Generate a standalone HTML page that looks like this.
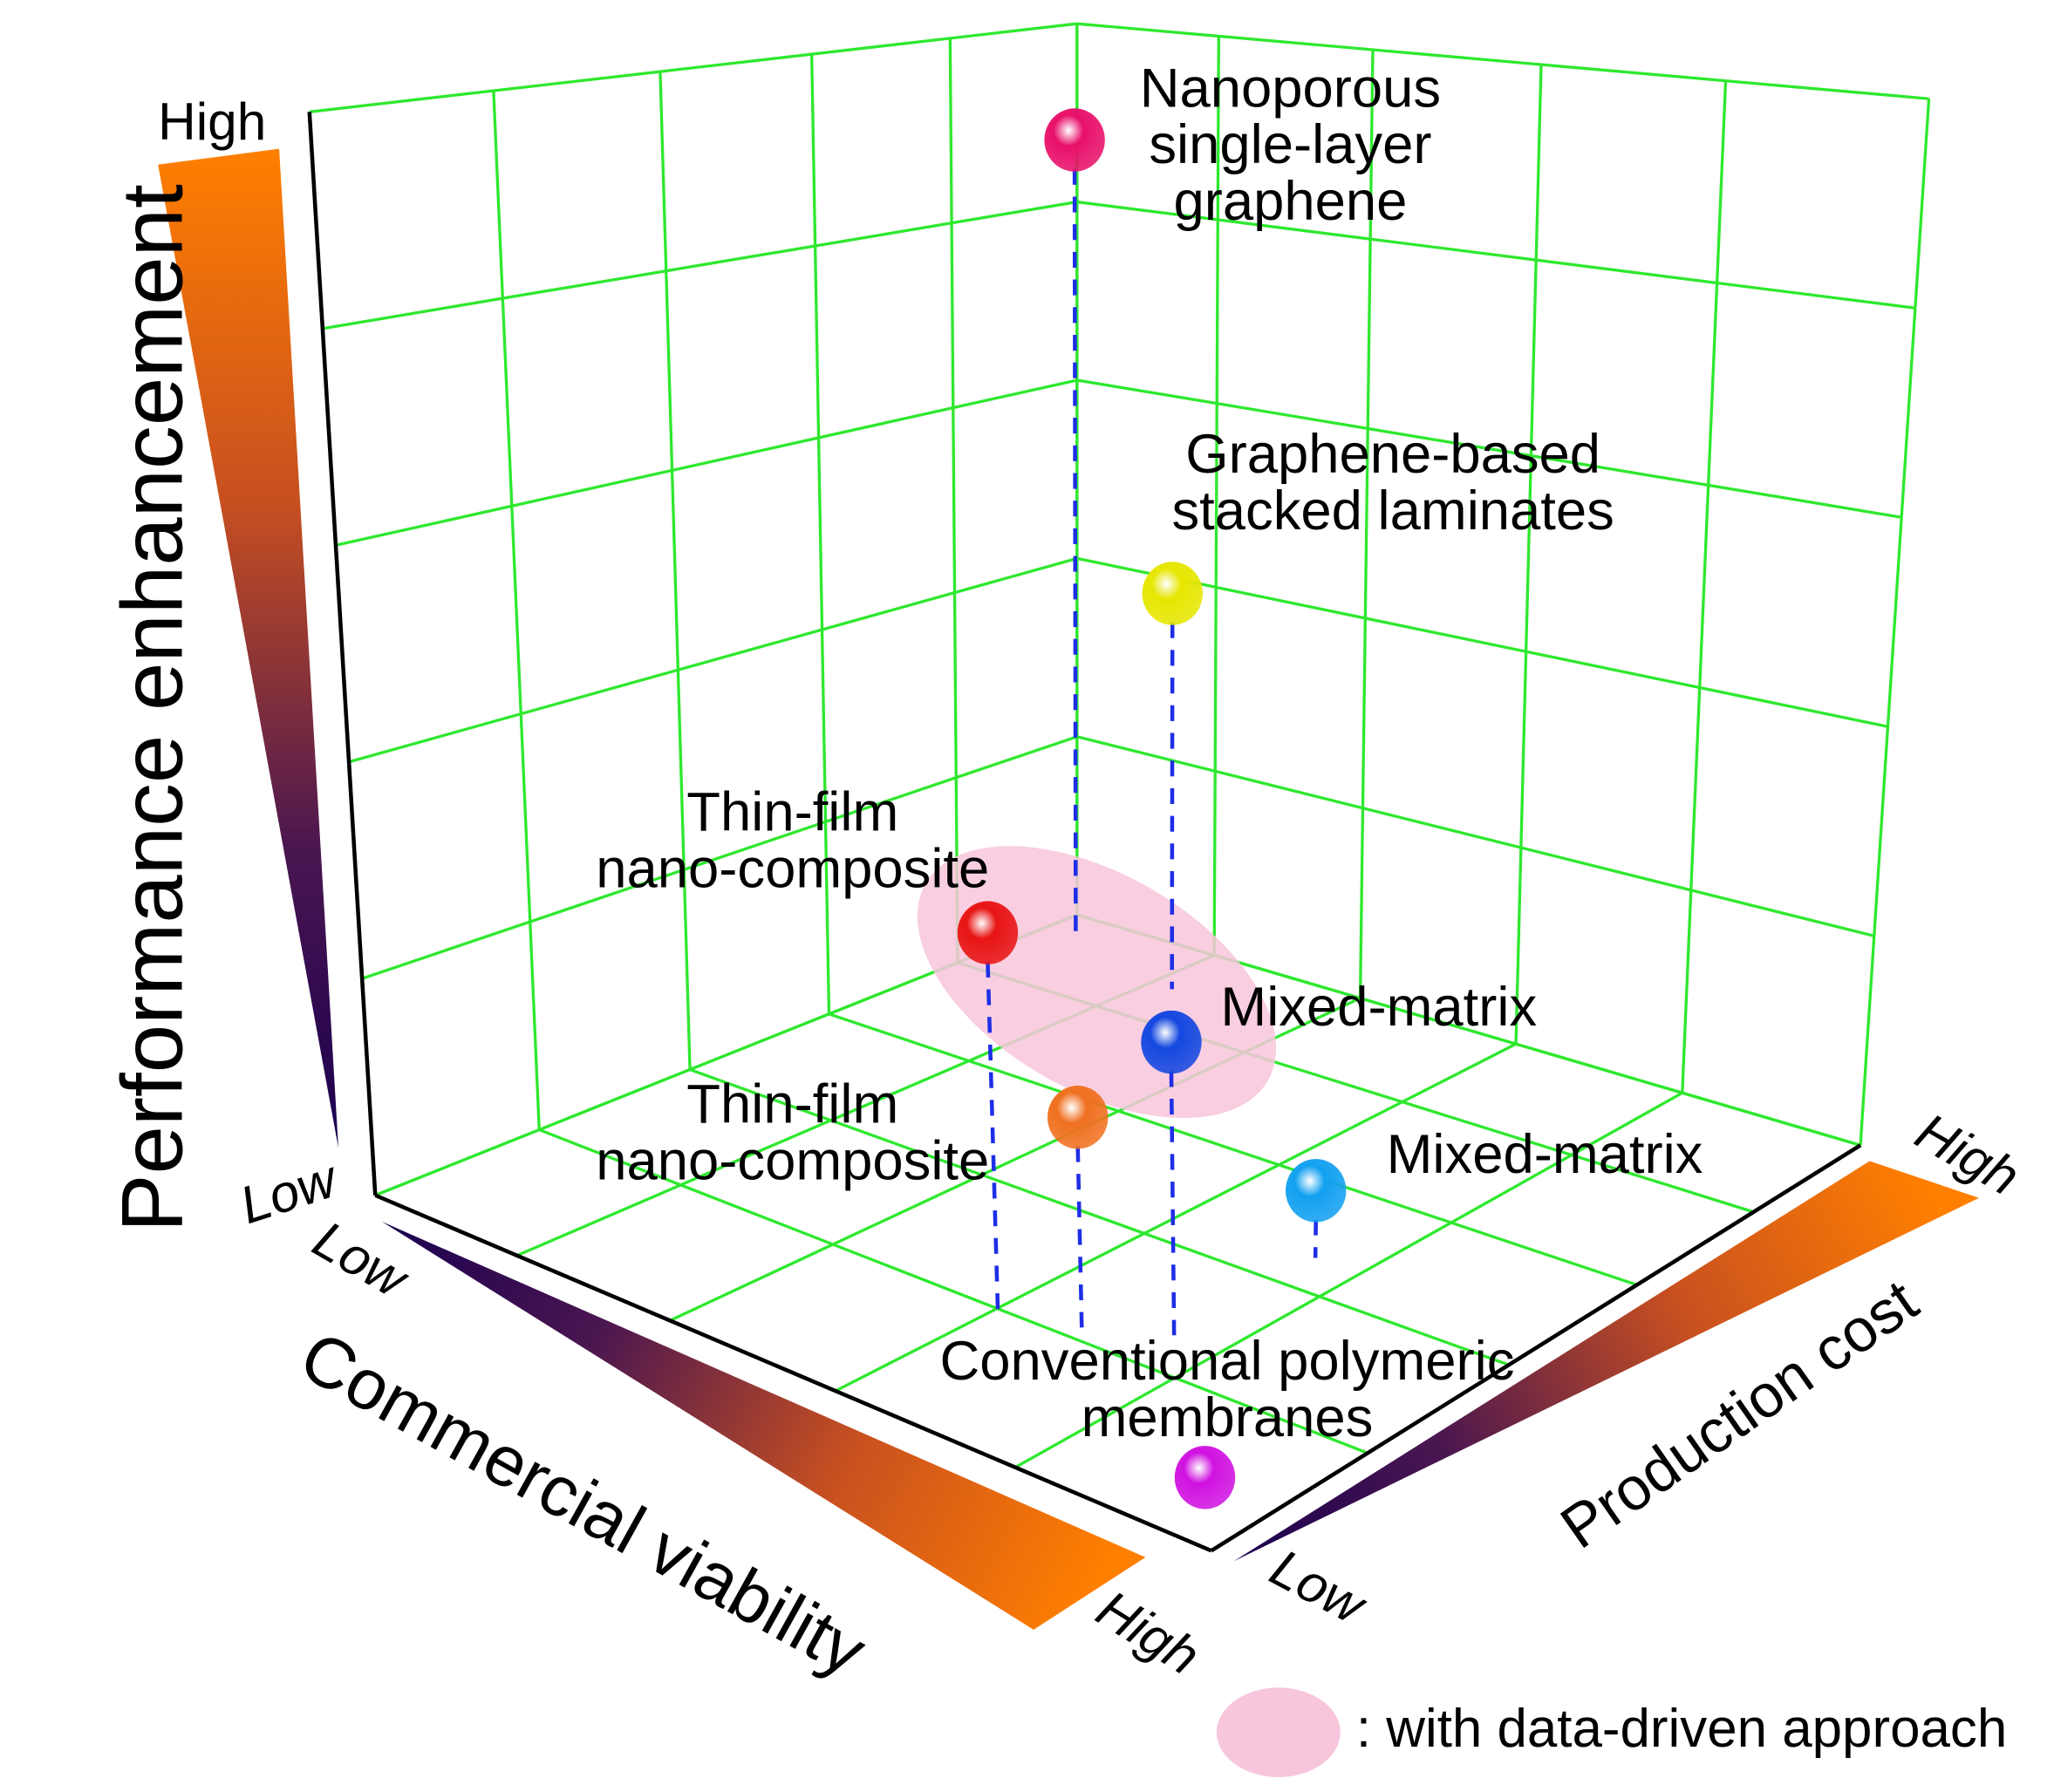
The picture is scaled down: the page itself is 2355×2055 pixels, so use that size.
<!DOCTYPE html>
<html><head><meta charset="utf-8">
<style>
html,body{margin:0;padding:0;background:#fff;}
svg{display:block;font-family:"Liberation Sans",Arial,sans-serif;}
</style></head>
<body>
<svg id="chart" width="2355" height="2055" viewBox="0 0 1560 1361.3" xmlns="http://www.w3.org/2000/svg">
<defs>
<linearGradient id="gv" x1="0" y1="0" x2="0" y2="1"><stop offset="0" stop-color="#ff7f00"/><stop offset="0.35" stop-color="#c85020"/><stop offset="0.7" stop-color="#4a1650"/><stop offset="1" stop-color="#1a0050"/></linearGradient>
<linearGradient id="gcv" gradientUnits="userSpaceOnUse" x1="290" y1="930" x2="830" y2="1210"><stop offset="0" stop-color="#1a0050"/><stop offset="0.3" stop-color="#4a1650"/><stop offset="0.65" stop-color="#c85020"/><stop offset="1" stop-color="#ff7f00"/></linearGradient>
<linearGradient id="gpc" gradientUnits="userSpaceOnUse" x1="937" y1="1185" x2="1460" y2="895"><stop offset="0" stop-color="#1a0050"/><stop offset="0.3" stop-color="#4a1650"/><stop offset="0.65" stop-color="#c85020"/><stop offset="1" stop-color="#ff7f00"/></linearGradient>
</defs>
<polygon points="120,125 212,113 257,872" fill="url(#gv)"/>
<polygon points="290,928 870,1183 785,1238" fill="url(#gcv)"/>
<polygon points="937,1186 1420,882 1503,910" fill="url(#gpc)"/>
<g id="grid"></g>
<ellipse cx="833" cy="746" rx="150" ry="82" transform="rotate(30 833 746)" fill="#f8c6dc" opacity="0.85"/>
<g id="axes"></g>
<g id="marks"></g>
<g font-size="42" fill="#000" text-anchor="middle">
<text x="980" y="81">Nanoporous</text>
<text x="980" y="124">single-layer</text>
<text x="980" y="167">graphene</text>
<text x="1058" y="359">Graphene-based</text>
<text x="1058" y="402">stacked laminates</text>
<text x="602" y="631">Thin-film</text>
<text x="602" y="674">nano-composite</text>
<text x="602" y="853">Thin-film</text>
<text x="602" y="896">nano-composite</text>
<text x="932" y="1048">Conventional polymeric</text>
<text x="932" y="1091">membranes</text>
<text x="927" y="779" text-anchor="start">Mixed-matrix</text>
<text x="1053" y="891" text-anchor="start">Mixed-matrix</text>
</g>
<text font-size="66" transform="translate(138,936) rotate(-90)">Performance enhancement</text>
<text font-size="54" transform="translate(224,1042) rotate(29)">Commercial viability</text>
<text font-size="46" transform="translate(1200,1178) rotate(-35)">Production cost</text>
<g font-size="40" font-style="italic">
<text x="120" y="106" font-style="normal">High</text>
<text transform="translate(188,930) rotate(-18)">Low</text>
<text transform="translate(235,950) rotate(30)">Low</text>
<text transform="translate(830,1230) rotate(32)">High</text>
<text transform="translate(962,1200) rotate(28)">Low</text>
<text transform="translate(1452,868) rotate(30)">High</text>
</g>
<ellipse cx="971" cy="1316" rx="47" ry="34" fill="#f8c6dc"/>
<text x="1030" y="1327" font-size="41">: with data-driven approach</text>
</svg>
<script>
// data: commercial viability (0..1), production cost (0..1), performance (0..1)
const names = ["nanoporous-graphene","graphene-stacked","tfn-high","mm-high","tfn-low","mm-low","conventional"];
const viability = [0.05,0.23,0.61,0.75,0.68,0.75,0.97];
const cost = [0.94,0.89,0.19,0.26,0.22,0.46,0.03];
const performance = [0.88,0.42,0.33,0.25,0.18,0.06,0.035];
const colors = ["#e8106a","#e6e600","#e81414","#1448e0","#f07020","#12a0f0","#d012e0"];
const dashed = [true,true,true,true,true,true,false];
const gridDivs = [0,0.2,0.4,0.6,0.8,1];

const NS="http://www.w3.org/2000/svg";
function homog(p0,p1,p2,p3){
  const [x0,y0]=p0,[x1,y1]=p1,[x2,y2]=p2,[x3,y3]=p3;
  const dx1=x1-x2,dx2=x3-x2,dx3=x0-x1+x2-x3,dy1=y1-y2,dy2=y3-y2,dy3=y0-y1+y2-y3;
  const den=dx1*dy2-dx2*dy1;
  const g=(dx3*dy2-dx2*dy3)/den,h=(dx1*dy3-dx3*dy1)/den;
  const a=x1-x0+g*x1,b=x3-x0+h*x3,d=y1-y0+g*y1,e=y3-y0+h*y3;
  return (u,v)=>{const w=g*u+h*v+1;return [(a*u+b*v+x0)/w,(d*u+e*v+y0)/w];};
}
const floorMap=homog([285,908],[920,1178],[1413,870],[818,695]);
const ceilMap=homog([235,85],[910,185],[1465,75],[818,18]);
function proj(c,p,h){const f=floorMap(c,p),t=ceilMap(c,p);return [f[0]+h*(t[0]-f[0]),f[1]+h*(t[1]-f[1])];}
function line(g,a,b,stroke,w,name,dash){
  const l=document.createElementNS(NS,"line");
  l.setAttribute("x1",a[0]);l.setAttribute("y1",a[1]);l.setAttribute("x2",b[0]);l.setAttribute("y2",b[1]);
  l.setAttribute("stroke",stroke);l.setAttribute("stroke-width",w);
  if(dash)l.setAttribute("stroke-dasharray",dash);
  
  
  g.appendChild(l);
}
const grid=document.getElementById("grid"),G="#2ee82e";
gridDivs.forEach(k=>{
  line(grid,proj(k,0,0),proj(k,1,0),G,2.2,"floor-grid-line");
  line(grid,proj(0,k,0),proj(1,k,0),G,2.2,"floor-grid-line");
  line(grid,proj(0,k,0),proj(0,k,1),G,2.2,"left-wall-grid-line");
  line(grid,proj(0,0,k),proj(0,1,k),G,2.2,"left-wall-grid-line");
  line(grid,proj(k,1,0),proj(k,1,1),G,2.2,"right-wall-grid-line");
  line(grid,proj(0,1,k),proj(1,1,k),G,2.2,"right-wall-grid-line");
});
const axes=document.getElementById("axes");
line(axes,proj(0,0,0),proj(0,0,1),"#000",3,"performance-axis-line");
line(axes,proj(0,0,0),proj(1,0,0),"#000",3,"viability-axis-line");
line(axes,proj(1,0,0),proj(1,1,0),"#000",3,"cost-axis-line");

const marks=document.getElementById("marks"),defs=document.querySelector("defs");
names.forEach((n,i)=>{
  const b=proj(viability[i],cost[i],performance[i]);
  if(dashed[i]){const f=proj(viability[i],cost[i],0);line(marks,[b[0],b[1]+22],f,"#1e2ee6",3,"drop-line-"+n,"12 9");}
  const gr=document.createElementNS(NS,"radialGradient");
  gr.setAttribute("id","bg"+i);gr.setAttribute("cx","0.4");gr.setAttribute("cy","0.35");gr.setAttribute("r","0.7");
  gr.innerHTML='<stop offset="0" stop-color="#ffffff"/><stop offset="0.35" stop-color="'+colors[i]+'"/><stop offset="1" stop-color="'+colors[i]+'" stop-opacity="0.85"/>';
  defs.appendChild(gr);
  const c=document.createElementNS(NS,"ellipse");
  c.setAttribute("cx",b[0]);c.setAttribute("cy",b[1]);c.setAttribute("rx",23);c.setAttribute("ry",24);
  c.setAttribute("fill","url(#bg"+i+")");
  
  
  marks.appendChild(c);
});
</script>
</body></html>
